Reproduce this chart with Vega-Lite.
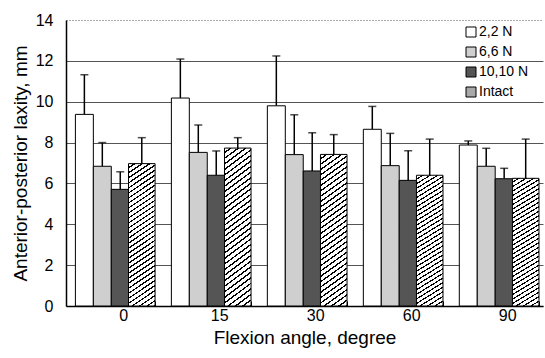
{
  "$schema": "https://vega.github.io/schema/vega-lite/v6.json",
  "width": 477,
  "height": 286,
  "autosize": {"type": "none"},
  "padding": {"left": 66, "top": 20, "right": 2, "bottom": 52},
  "background": "white",
  "config": {
    "font": "Liberation Sans",
    "view": {"stroke": null},
    "axis": {"labelFont": "Liberation Sans", "titleFont": "Liberation Sans", "labelColor": "black", "titleColor": "black", "titleFontWeight": "normal"}
  },
  "data": {
    "values": [
      {"angle": "0", "series": "2,2 N", "value": 9.38, "upper": 11.32},
      {"angle": "0", "series": "6,6 N", "value": 6.84, "upper": 8.0},
      {"angle": "0", "series": "10,10 N", "value": 5.71, "upper": 6.57},
      {"angle": "0", "series": "Intact", "value": 6.97, "upper": 8.24},
      {"angle": "15", "series": "2,2 N", "value": 10.18, "upper": 12.09},
      {"angle": "15", "series": "6,6 N", "value": 7.52, "upper": 8.86},
      {"angle": "15", "series": "10,10 N", "value": 6.4, "upper": 7.59},
      {"angle": "15", "series": "Intact", "value": 7.73, "upper": 8.24},
      {"angle": "30", "series": "2,2 N", "value": 9.8, "upper": 12.24},
      {"angle": "30", "series": "6,6 N", "value": 7.41, "upper": 9.36},
      {"angle": "30", "series": "10,10 N", "value": 6.61, "upper": 8.48},
      {"angle": "30", "series": "Intact", "value": 7.42, "upper": 8.39},
      {"angle": "60", "series": "2,2 N", "value": 8.65, "upper": 9.77},
      {"angle": "60", "series": "6,6 N", "value": 6.87, "upper": 8.45},
      {"angle": "60", "series": "10,10 N", "value": 6.15, "upper": 7.6},
      {"angle": "60", "series": "Intact", "value": 6.4, "upper": 8.17},
      {"angle": "90", "series": "2,2 N", "value": 7.88, "upper": 8.08},
      {"angle": "90", "series": "6,6 N", "value": 6.84, "upper": 7.72},
      {"angle": "90", "series": "10,10 N", "value": 6.23, "upper": 6.74},
      {"angle": "90", "series": "Intact", "value": 6.25, "upper": 8.17}
    ]
  },
  "encoding": {
    "x": {
      "field": "angle", "type": "ordinal", "sort": null,
      "scale": {"paddingInner": 0.17, "paddingOuter": 0.07, "align": 0.7},
      "axis": {
        "title": "Flexion angle, degree", "titleFontSize": 19, "titlePadding": 5,
        "labelAngle": 0, "labelFontSize": 16, "labelPadding": 6, "labelOffset": 8,
        "tickBand": "extent", "ticks": true, "tickSize": -5, "tickColor": "black",
        "domainColor": "black", "domainWidth": 1.5, "grid": false
      }
    },
    "y": {
      "field": "value", "type": "quantitative",
      "scale": {"domain": [0, 14], "nice": false},
      "axis": {
        "title": "Anterior-posterior laxity, mm", "titleFontSize": 19, "titlePadding": 5,
        "values": [0, 2, 4, 6, 8, 10, 12, 14], "labelFontSize": 16, "labelPadding": 13,
        "ticks": false, "tickSize": 0,
        "domainColor": "black", "domainWidth": 1.5,
        "grid": true, "gridColor": "#555555", "gridWidth": 1,
        "gridDash": {"condition": {"test": "datum.value === 14", "value": [1, 2]}, "value": []}
      }
    },
    "fill": {
      "field": "series", "type": "nominal",
      "scale": {
        "domain": ["2,2 N", "6,6 N", "10,10 N", "Intact"],
        "range": ["#ffffff", "#cfcfcf", "#555555", "#a8a8a8"]
      },
      "legend": {
        "title": null, "orient": "none", "legendX": 398, "legendY": 5,
        "symbolType": "square", "symbolSize": 100, "symbolStrokeColor": "black", "symbolStrokeWidth": 1,
        "labelFont": "Liberation Sans", "labelFontSize": 14, "labelColor": "black", "labelOffset": 1, "rowPadding": 6,
        "encode": {
          "symbols": {
            "update": {
              "stroke": {"value": "black"},
              "strokeWidth": {"value": 1},
              "fill": [
                {"test": "datum.value === 'Intact' || datum.label === 'Intact'", "value": {"gradient": "linear", "x1": 0, "y1": 0, "x2": 1, "y2": 1, "stops": [
                  {"offset": 0, "color": "white"}, {"offset": 0.2, "color": "white"}, {"offset": 0.2, "color": "black"}, {"offset": 0.333, "color": "black"},
                  {"offset": 0.333, "color": "white"}, {"offset": 0.533, "color": "white"}, {"offset": 0.533, "color": "black"}, {"offset": 0.667, "color": "black"},
                  {"offset": 0.667, "color": "white"}, {"offset": 0.867, "color": "white"}, {"offset": 0.867, "color": "black"}, {"offset": 1, "color": "black"}
                ]}},
                {"scale": "fill", "field": "value"}
              ]
            }
          }
        }
      }
    }
  },
  "layer": [
    {
      "transform": [{"filter": "datum.series !== 'Intact'"}],
      "encoding": {
        "xOffset": {"field": "series", "type": "nominal", "scale": {"domain": ["2,2 N", "6,6 N", "10,10 N"], "paddingInner": 0, "paddingOuter": 0.72, "align": 0}}
      },
      "layer": [
        {"mark": {"type": "rule", "stroke": "black", "strokeWidth": 1.5}, "encoding": {"y": {"field": "value", "type": "quantitative"}, "y2": {"field": "upper"}, "fill": null}},
        {"mark": {"type": "tick", "orient": "horizontal", "color": "black", "size": 8, "thickness": 1.5}, "encoding": {"y": {"field": "upper", "type": "quantitative"}, "fill": null}},
        {"mark": {"type": "bar", "stroke": "black", "strokeWidth": 1}, "encoding": {"y": {"field": "value", "type": "quantitative"}}}
      ]
    },
    {
      "transform": [{"filter": "datum.series === 'Intact'"}],
      "encoding": {
        "xOffset": {"field": "series", "type": "nominal", "scale": {"domain": ["Intact"], "paddingInner": 0, "paddingOuter": 1.72, "align": 1}}
      },
      "layer": [
        {"mark": {"type": "rule", "stroke": "black", "strokeWidth": 1.5}, "encoding": {"y": {"field": "value", "type": "quantitative"}, "y2": {"field": "upper"}, "fill": null}},
        {"mark": {"type": "tick", "orient": "horizontal", "color": "black", "size": 8, "thickness": 1.5}, "encoding": {"y": {"field": "upper", "type": "quantitative"}, "fill": null}},
        {"mark": {"type": "bar", "stroke": "black", "strokeWidth": 1,
          "fill": {"gradient": "linear", "x1": 0, "y1": 0, "x2": 0.139, "y2": 1.11, "stops": [
          {"offset": 0, "color": "white"}, {"offset": 0.021875, "color": "white"}, {"offset": 0.021875, "color": "black"}, {"offset": 0.03125, "color": "black"},
          {"offset": 0.03125, "color": "white"}, {"offset": 0.053125, "color": "white"}, {"offset": 0.053125, "color": "black"}, {"offset": 0.0625, "color": "black"},
          {"offset": 0.0625, "color": "white"}, {"offset": 0.084375, "color": "white"}, {"offset": 0.084375, "color": "black"}, {"offset": 0.09375, "color": "black"},
          {"offset": 0.09375, "color": "white"}, {"offset": 0.115625, "color": "white"}, {"offset": 0.115625, "color": "black"}, {"offset": 0.125, "color": "black"},
          {"offset": 0.125, "color": "white"}, {"offset": 0.146875, "color": "white"}, {"offset": 0.146875, "color": "black"}, {"offset": 0.15625, "color": "black"},
          {"offset": 0.15625, "color": "white"}, {"offset": 0.178125, "color": "white"}, {"offset": 0.178125, "color": "black"}, {"offset": 0.1875, "color": "black"},
          {"offset": 0.1875, "color": "white"}, {"offset": 0.209375, "color": "white"}, {"offset": 0.209375, "color": "black"}, {"offset": 0.21875, "color": "black"},
          {"offset": 0.21875, "color": "white"}, {"offset": 0.240625, "color": "white"}, {"offset": 0.240625, "color": "black"}, {"offset": 0.25, "color": "black"},
          {"offset": 0.25, "color": "white"}, {"offset": 0.271875, "color": "white"}, {"offset": 0.271875, "color": "black"}, {"offset": 0.28125, "color": "black"},
          {"offset": 0.28125, "color": "white"}, {"offset": 0.303125, "color": "white"}, {"offset": 0.303125, "color": "black"}, {"offset": 0.3125, "color": "black"},
          {"offset": 0.3125, "color": "white"}, {"offset": 0.334375, "color": "white"}, {"offset": 0.334375, "color": "black"}, {"offset": 0.34375, "color": "black"},
          {"offset": 0.34375, "color": "white"}, {"offset": 0.365625, "color": "white"}, {"offset": 0.365625, "color": "black"}, {"offset": 0.375, "color": "black"},
          {"offset": 0.375, "color": "white"}, {"offset": 0.396875, "color": "white"}, {"offset": 0.396875, "color": "black"}, {"offset": 0.40625, "color": "black"},
          {"offset": 0.40625, "color": "white"}, {"offset": 0.428125, "color": "white"}, {"offset": 0.428125, "color": "black"}, {"offset": 0.4375, "color": "black"},
          {"offset": 0.4375, "color": "white"}, {"offset": 0.459375, "color": "white"}, {"offset": 0.459375, "color": "black"}, {"offset": 0.46875, "color": "black"},
          {"offset": 0.46875, "color": "white"}, {"offset": 0.490625, "color": "white"}, {"offset": 0.490625, "color": "black"}, {"offset": 0.5, "color": "black"},
          {"offset": 0.5, "color": "white"}, {"offset": 0.521875, "color": "white"}, {"offset": 0.521875, "color": "black"}, {"offset": 0.53125, "color": "black"},
          {"offset": 0.53125, "color": "white"}, {"offset": 0.553125, "color": "white"}, {"offset": 0.553125, "color": "black"}, {"offset": 0.5625, "color": "black"},
          {"offset": 0.5625, "color": "white"}, {"offset": 0.584375, "color": "white"}, {"offset": 0.584375, "color": "black"}, {"offset": 0.59375, "color": "black"},
          {"offset": 0.59375, "color": "white"}, {"offset": 0.615625, "color": "white"}, {"offset": 0.615625, "color": "black"}, {"offset": 0.625, "color": "black"},
          {"offset": 0.625, "color": "white"}, {"offset": 0.646875, "color": "white"}, {"offset": 0.646875, "color": "black"}, {"offset": 0.65625, "color": "black"},
          {"offset": 0.65625, "color": "white"}, {"offset": 0.678125, "color": "white"}, {"offset": 0.678125, "color": "black"}, {"offset": 0.6875, "color": "black"},
          {"offset": 0.6875, "color": "white"}, {"offset": 0.709375, "color": "white"}, {"offset": 0.709375, "color": "black"}, {"offset": 0.71875, "color": "black"},
          {"offset": 0.71875, "color": "white"}, {"offset": 0.740625, "color": "white"}, {"offset": 0.740625, "color": "black"}, {"offset": 0.75, "color": "black"},
          {"offset": 0.75, "color": "white"}, {"offset": 0.771875, "color": "white"}, {"offset": 0.771875, "color": "black"}, {"offset": 0.78125, "color": "black"},
          {"offset": 0.78125, "color": "white"}, {"offset": 0.803125, "color": "white"}, {"offset": 0.803125, "color": "black"}, {"offset": 0.8125, "color": "black"},
          {"offset": 0.8125, "color": "white"}, {"offset": 0.834375, "color": "white"}, {"offset": 0.834375, "color": "black"}, {"offset": 0.84375, "color": "black"},
          {"offset": 0.84375, "color": "white"}, {"offset": 0.865625, "color": "white"}, {"offset": 0.865625, "color": "black"}, {"offset": 0.875, "color": "black"},
          {"offset": 0.875, "color": "white"}, {"offset": 0.896875, "color": "white"}, {"offset": 0.896875, "color": "black"}, {"offset": 0.90625, "color": "black"},
          {"offset": 0.90625, "color": "white"}, {"offset": 0.928125, "color": "white"}, {"offset": 0.928125, "color": "black"}, {"offset": 0.9375, "color": "black"},
          {"offset": 0.9375, "color": "white"}, {"offset": 0.959375, "color": "white"}, {"offset": 0.959375, "color": "black"}, {"offset": 0.96875, "color": "black"},
          {"offset": 0.96875, "color": "white"}, {"offset": 0.990625, "color": "white"}, {"offset": 0.990625, "color": "black"}, {"offset": 1, "color": "black"}
        ]}}, "encoding": {"y": {"field": "value", "type": "quantitative"}, "fill": null}}
      ]
    }
  ],
  "resolve": {"scale": {"xOffset": "independent"}}
}
